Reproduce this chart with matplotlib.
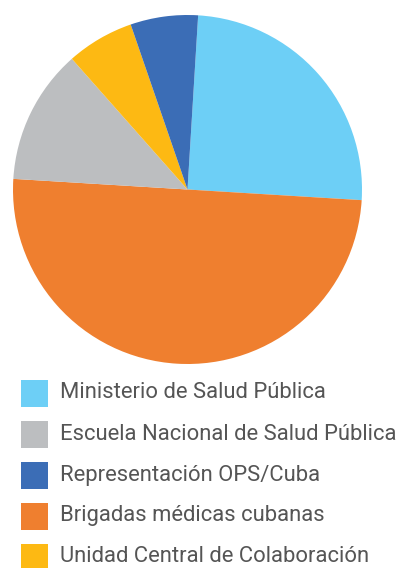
import matplotlib.pyplot as plt
from matplotlib.patches import Rectangle

plt.rcParams['font.family'] = ['Roboto', 'DejaVu Sans']

# legend order
legend_labels = [
    "Ministerio de Salud Pública",
    "Escuela Nacional de Salud Pública",
    "Representación OPS/Cuba",
    "Brigadas médicas cubanas",
    "Unidad Central de Colaboración",
]
legend_colors = ["#6DCFF6", "#BCBEC0", "#3B6DB6", "#EF7F2F", "#FDB913"]

# slice order, clockwise from the top
slice_labels = [
    "Ministerio de Salud Pública",
    "Brigadas médicas cubanas",
    "Escuela Nacional de Salud Pública",
    "Unidad Central de Colaboración",
    "Representación OPS/Cuba",
]
slice_values = [4, 8, 2, 1, 1]

W, H = 408, 568
fig = plt.figure(figsize=(W / 100, H / 100), dpi=100)

colors = [legend_colors[legend_labels.index(l)] for l in slice_labels]
ax = fig.add_axes([13 / W, (H - 364) / H, 349 / W, 349 / H])
ax.pie(slice_values, colors=colors, startangle=86.5, counterclock=False,
       wedgeprops=dict(linewidth=0))
ax.set_xlim(-1, 1)
ax.set_ylim(-1, 1)
ax.set_aspect("equal")

# legend: squares and labels
y0, step, box = 393, 41, 27
for i, (lab, col) in enumerate(zip(legend_labels, legend_colors)):
    yc = y0 + i * step
    fig.add_artist(Rectangle((21 / W, (H - yc - box / 2) / H), box / W, box / H,
                             transform=fig.transFigure, color=col, lw=0))
    fig.text(60 / W, (H - yc) / H, lab, fontsize=15.8, color="#555555",
             va="center", ha="left")

fig.savefig("out.png", dpi=100)
